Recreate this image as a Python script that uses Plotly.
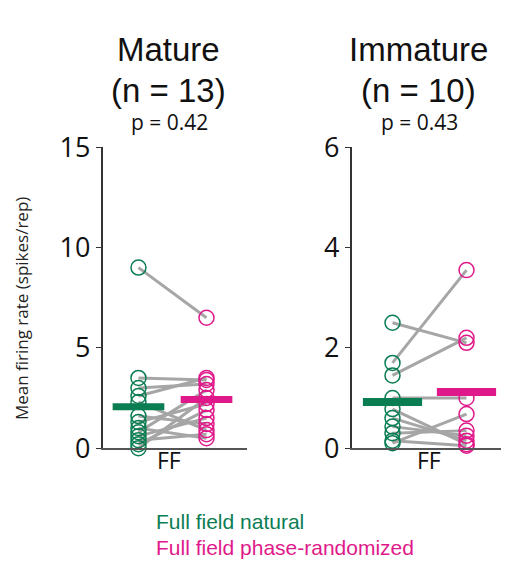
import plotly.graph_objects as go

# ---- data ----
groups = ["Mature", "Immature"]
n_labels = ["(n = 13)", "(n = 10)"]
p_labels = ["p = 0.42", "p = 0.43"]
conditions = ["Full field natural", "Full field phase-randomized"]
category_label = "FF"

mature_natural = [9.0, 3.5, 3.0, 2.6, 2.3, 1.6, 1.3, 1.0, 0.8, 0.6, 0.4, 0.2, 0.0]
mature_phase = [6.5, 3.4, 3.2, 3.5, 0.9, 1.2, 2.2, 0.5, 2.9, 1.5, 0.7, 1.9, 2.5]
mature_means = [2.07, 2.42]

immature_natural = [2.5, 1.7, 1.45, 1.0, 0.78, 0.6, 0.43, 0.3, 0.15, 0.1]
immature_phase = [2.1, 3.55, 2.2, 1.0, 0.08, 0.15, 0.25, 0.35, 0.05, 0.68]
immature_means = [0.92, 1.12]

mature_ticks = [0, 5, 10, 15]
immature_ticks = [0, 2, 4, 6]

GREEN = "#0b7d52"
PINK = "#e0198a"
GRAY = "#a6a6a6"

W, H = 509, 566

# empirical mapping from target pixel to layout fraction
def fx(px):
    return min(max((px - 7.5) / W, 0), 1)

def fy(px):
    return min(max(1 - (px - 25.6) / 0.944 / H, 0), 1)

fig = go.Figure()

panels = [
    dict(nat=mature_natural, ph=mature_phase, means=mature_means, xa="x", ya="y", half=0.38, bw=7),
    dict(nat=immature_natural, ph=immature_phase, means=immature_means, xa="x2", ya="y2", half=0.40, bw=8),
]

for pnl in panels:
    for a, b in zip(pnl["nat"], pnl["ph"]):
        fig.add_trace(go.Scatter(x=[1, 2], y=[a, b], mode="lines",
                                 line=dict(color=GRAY, width=3),
                                 xaxis=pnl["xa"], yaxis=pnl["ya"],
                                 showlegend=False, hoverinfo="skip", cliponaxis=False))
    fig.add_trace(go.Scatter(x=[1] * len(pnl["nat"]), y=pnl["nat"], mode="markers",
                             marker=dict(symbol="circle-open", size=15, color=GREEN,
                                         line=dict(width=1.5, color=GREEN)),
                             xaxis=pnl["xa"], yaxis=pnl["ya"], showlegend=False, cliponaxis=False))
    fig.add_trace(go.Scatter(x=[2] * len(pnl["ph"]), y=pnl["ph"], mode="markers",
                             marker=dict(symbol="circle-open", size=15, color=PINK,
                                         line=dict(width=1.5, color=PINK)),
                             xaxis=pnl["xa"], yaxis=pnl["ya"], showlegend=False, cliponaxis=False))
    for i, (m, c) in enumerate(zip(pnl["means"], [GREEN, PINK])):
        xc = i + 1
        fig.add_trace(go.Scatter(x=[xc - pnl["half"], xc + pnl["half"]], y=[m, m], mode="lines",
                                 line=dict(color=c, width=pnl["bw"]),
                                 xaxis=pnl["xa"], yaxis=pnl["ya"], showlegend=False, cliponaxis=False))

ydom = [fy(450), fy(146)]
axis_common = dict(showgrid=False, zeroline=False)
tickfont = dict(family="Open Sans", size=27, color="#111111")

fig.update_layout(
    width=W, height=H,
    margin=dict(l=0, r=0, t=0, b=0),
    paper_bgcolor="white", plot_bgcolor="white",
    xaxis=dict(domain=[fx(102), fx(246)], range=[0.471, 2.588], showticklabels=False,
               ticks="", showline=True, linecolor="#555555", linewidth=2, **axis_common),
    yaxis=dict(domain=ydom, range=[0, 15], tickvals=mature_ticks, ticks="outside",
               ticklen=5, tickcolor="#333333", showline=True, linecolor="#333333", linewidth=1.5,
               tickfont=tickfont, **axis_common),
    xaxis2=dict(domain=[fx(351), fx(505)], range=[0.446, 2.527], showticklabels=False,
                ticks="", showline=True, linecolor="#555555", linewidth=2, anchor="y2", **axis_common),
    yaxis2=dict(domain=ydom, range=[0, 6], tickvals=immature_ticks, ticks="outside",
                ticklen=5, tickcolor="#333333", showline=True, linecolor="#333333", linewidth=1.5,
                anchor="x2", tickfont=tickfont, **axis_common),
)

ann = []
centers = [168, 418]
for g, n, p, cx in zip(groups, n_labels, p_labels, centers):
    ann.append(dict(text=g, x=fx(cx), y=fy(47), font=dict(family="Liberation Sans", size=33, color="#111111")))
    ann.append(dict(text=n, x=fx(cx), y=fy(89), font=dict(family="Liberation Sans", size=33, color="#111111")))
    ann.append(dict(text=p, x=fx(cx + 1), y=fy(121), font=dict(family="Open Sans", size=21, color="#111111")))
ann.append(dict(text=category_label, x=fx(168), y=fy(462), font=dict(family="Open Sans", size=23, color="#111111")))
ann.append(dict(text=category_label, x=fx(428), y=fy(462), font=dict(family="Open Sans", size=23, color="#111111")))
ann.append(dict(text="Mean firing rate (spikes/rep)", x=fx(21), y=fy(309), textangle=-90,
                font=dict(family="Open Sans", size=17, color="#222222")))
ann.append(dict(text=conditions[0], x=fx(153), y=fy(524), xanchor="left",
                font=dict(family="Liberation Sans", size=21, color=GREEN)))
ann.append(dict(text=conditions[1], x=fx(153), y=fy(550), xanchor="left",
                font=dict(family="Liberation Sans", size=21, color=PINK)))

for a in ann:
    a.setdefault("xanchor", "center")
    a.update(xref="paper", yref="paper", yanchor="middle", showarrow=False)
fig.update_layout(annotations=ann)

fig.write_html("out.html")
